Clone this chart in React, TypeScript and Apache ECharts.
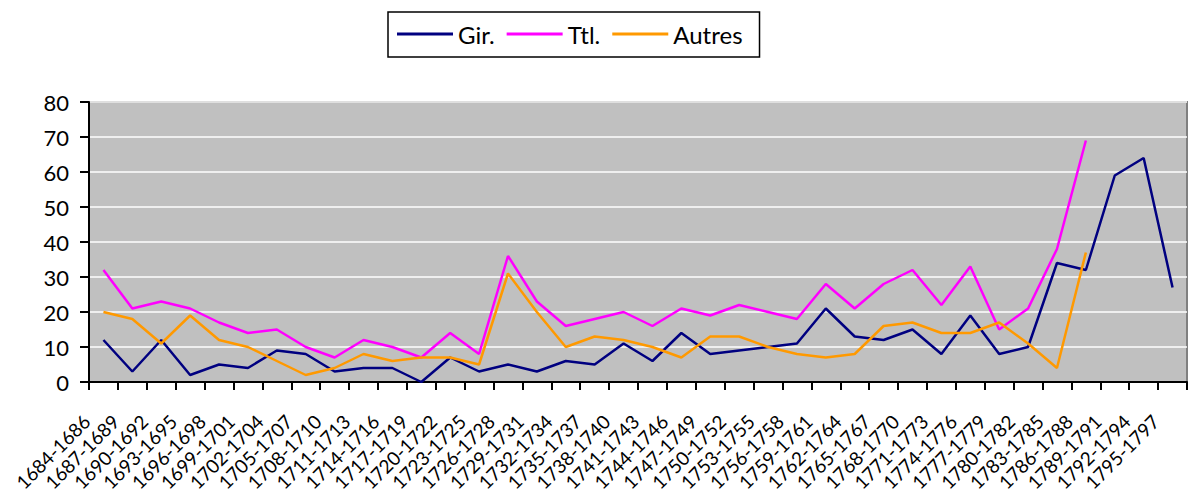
import React, { useEffect, useRef } from "react";
import * as echarts from "echarts";

const categories = [
  "1684-1686", "1687-1689", "1690-1692", "1693-1695", "1696-1698", "1699-1701",
  "1702-1704", "1705-1707", "1708-1710", "1711-1713", "1714-1716", "1717-1719",
  "1720-1722", "1723-1725", "1726-1728", "1729-1731", "1732-1734", "1735-1737",
  "1738-1740", "1741-1743", "1744-1746", "1747-1749", "1750-1752", "1753-1755",
  "1756-1758", "1759-1761", "1762-1764", "1765-1767", "1768-1770", "1771-1773",
  "1774-1776", "1777-1779", "1780-1782", "1783-1785", "1786-1788", "1789-1791",
  "1792-1794", "1795-1797",
];

const gir = [12, 3, 12, 2, 5, 4, 9, 8, 3, 4, 4, 0, 7, 3, 5, 3, 6, 5, 11, 6, 14, 8, 9, 10, 11, 21, 13, 12, 15, 8, 19, 8, 10, 34, 32, 59, 64, 27];
const ttl = [32, 21, 23, 21, 17, 14, 15, 10, 7, 12, 10, 7, 14, 8, 36, 23, 16, 18, 20, 16, 21, 19, 22, 20, 18, 28, 21, 28, 32, 22, 33, 15, 21, 38, 69, null, null, null];
const autres = [20, 18, 11, 19, 12, 10, 6, 2, 4, 8, 6, 7, 7, 5, 31, 20, 10, 13, 12, 10, 7, 13, 13, 10, 8, 7, 8, 16, 17, 14, 14, 17, 11, 4, 37, null, null, null];

const seriesNames = ["Gir.", "Ttl.", "Autres"];
const seriesColors = ["#000080", "#FF00FF", "#FF9900"];

const FONT = "Lato, 'Noto Sans', sans-serif";

export default function App() {
  const ref = useRef<HTMLDivElement>(null);
  useEffect(() => {
    if (!ref.current) return;
    const chart = echarts.init(ref.current, undefined, { renderer: "svg" });
    const datasets = [gir, ttl, autres];
    chart.setOption({
      animation: false,
      backgroundColor: "#FFFFFF",
      textStyle: { fontFamily: FONT },
      legend: {
        left: 388,
        top: 12,
        padding: [10, 17, 11, 9],
        itemGap: 12,
        itemWidth: 56,
        itemHeight: 3,
        icon: "rect",
        borderColor: "#000000",
        borderWidth: 1.5,
        data: seriesNames,
        textStyle: { fontSize: 24, color: "#000000", fontFamily: FONT },
      },
      grid: {
        left: 89,
        top: 102,
        width: 1098,
        height: 280,
        containLabel: false,
        outerBoundsMode: "none",
        show: true,
        backgroundColor: "#C0C0C0",
        borderColor: "#808080",
        borderWidth: 2,
      },
      xAxis: {
        type: "category",
        data: categories,
        boundaryGap: true,
        axisLine: { show: true, lineStyle: { color: "#000000", width: 2 } },
        axisTick: { show: true, length: 8, lineStyle: { color: "#000000", width: 2 } },
        axisLabel: {
          interval: 0,
          rotate: 45,
          margin: 19,
          padding: [0, 24, 0, 0],
          fontSize: 19,
          color: "#000000",
          fontFamily: FONT,
        },
        splitLine: { show: false },
      },
      yAxis: {
        type: "value",
        min: 0,
        max: 80,
        interval: 10,
        axisLine: { show: true, lineStyle: { color: "#000000", width: 2 } },
        axisTick: { show: true, length: 9, lineStyle: { color: "#000000", width: 2 } },
        axisLabel: { margin: 20, fontSize: 22, color: "#000000", fontFamily: FONT },
        splitLine: { show: true, lineStyle: { color: "#FFFFFF", width: 1.5 } },
      },
      series: seriesNames.map((name, i) => ({
        name,
        type: "line",
        data: datasets[i],
        symbol: "none",
        showSymbol: false,
        connectNulls: false,
        color: seriesColors[i],
        lineStyle: { color: seriesColors[i], width: 2.5 },
      })),
    });
    return () => chart.dispose();
  }, []);
  return (
    <div
      ref={ref}
      style={{ position: "fixed", left: 0, top: 0, width: 1189, height: 496 }}
    />
  );
}
